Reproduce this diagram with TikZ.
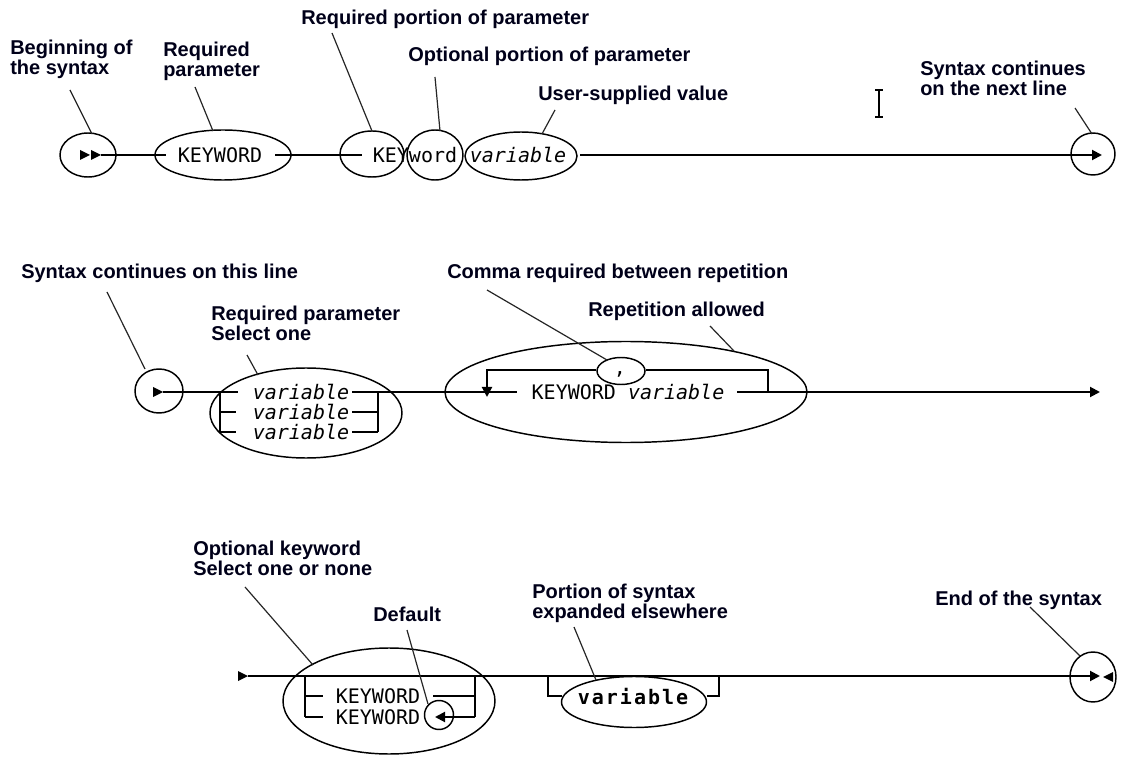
\documentclass[tikz,border=0pt]{standalone}
\usepackage{fontspec}
\setmainfont{Liberation Sans}
\newfontfamily\monof{DejaVu Sans Mono}
\newfontfamily\monosp[LetterSpace=10]{DejaVu Sans Mono}
\usetikzlibrary{shapes.geometric,arrows.meta}
\tikzset{
  lab/.style={font=\bfseries\fontsize{15}{14.5}\selectfont, align=left, inner sep=0pt, anchor=north west, text=black!90!blue},
  mono/.style={font=\monof\fontsize{15}{15}\selectfont, inner sep=0pt},
  monoit/.style={font=\monof\itshape\fontsize{15}{15}\selectfont, inner sep=0pt},
  monobold/.style={font=\monosp\bfseries\fontsize{15}{15}\selectfont, inner sep=0pt},
  ell/.style 2 args={ellipse, draw, line width=1.1pt, minimum width=#1*0.75pt, minimum height=#2*0.75pt, inner sep=0pt},
  rail/.style={line width=1.5pt},
  call/.style={line width=0.9pt, draw=black!85},
  tipped/.style={-{Triangle[length=7.5pt,width=7.5pt]}},
  rtri/.pic={\fill (0,-5) -- (10,0) -- (0,5) -- cycle;},
  ltri/.pic={\fill (0,-5) -- (-10,0) -- (0,5) -- cycle;}
}
\begin{document}
\begin{tikzpicture}[x=0.75pt,y=-0.75pt]
\useasboundingbox (0,0) rectangle (1125,759);

% ---------------- Row 1 ----------------
\node[ell={56}{44}] (st1) at (88,155) {};
\pic at (80,155) {rtri};
\pic at (91,155) {rtri};
\node[ell={136}{50}] (kwE) at (223,155) {};
\node[mono] (kwT) at (220,155) {KEYWORD};
\node[ell={64}{46}] (keyE) at (372,154) {};
\node[ell={56}{50}] (wordE) at (435,155) {};
\node[mono] (keyT) at (415,155) {KEYword};
\node[ell={112}{48}] (varE) at (521,156) {};
\node[monoit] (varT) at (518,155) {variable};
\node[ell={44}{42}] (end1) at (1093,154) {};
\coordinate (r1a) at (101,155);
\coordinate (r1b) at (166,155);
\coordinate (r1c) at (275,155);
\coordinate (r1d) at (362,155);
\coordinate (r1e) at (580,155);
\coordinate (r1f) at (1102,155);
\draw[rail] (r1a) -- (r1b);
\draw[rail] (r1c) -- (r1d);
\draw[rail,tipped] (r1e) -- (r1f);

% I-beam cursor
\draw[line width=0.9pt] (875,90) -- (883,90) (879,90) -- (879,117) (875,117) -- (883,117);

% labels row 1
\node[lab] (lBeg) at (10,40) {Beginning of\\the syntax};
\node[lab] (lReq) at (163,42) {Required\\parameter};
\node[lab] (lRqp) at (301,10) {Required portion of parameter};
\node[lab] (lOpp) at (408,47) {Optional portion of parameter};
\node[lab] (lUsr) at (538,86) {User-supplied value};
\node[lab] (lCnt) at (920,61) {Syntax continues\\on the next line};
\coordinate (c1a) at (70,90);   \coordinate (c1b) at (92,134);
\coordinate (c2a) at (195,87);  \coordinate (c2b) at (213,131);
\coordinate (c3a) at (332,33);  \coordinate (c3b) at (372,131);
\coordinate (c4a) at (435,77);  \coordinate (c4b) at (440,131);
\coordinate (c5a) at (555,110); \coordinate (c5b) at (542,134);
\coordinate (c6a) at (1075,108);\coordinate (c6b) at (1092,134);
\draw[call] (c1a) -- (c1b);
\draw[call] (c2a) -- (c2b);
\draw[call] (c3a) -- (c3b);
\draw[call] (c4a) -- (c4b);
\draw[call] (c5a) -- (c5b);
\draw[call] (c6a) -- (c6b);

% ---------------- Row 2 ----------------
\node[ell={48}{44}] (st2) at (159,391) {};
\pic at (153,392) {rtri};
\node[ell={192}{90}] (chE) at (306,413) {};
\node[monoit] (v1) at (301,392) {variable};
\node[monoit] (v2) at (301,412) {variable};
\node[monoit] (v3) at (301,432) {variable};
\coordinate (a0) at (163,392);
\coordinate (a1) at (238,392);
\coordinate (bL1) at (220,392); \coordinate (bL3) at (220,432);
\coordinate (bL2) at (220,412);
\coordinate (tL2) at (236,412); \coordinate (tL3) at (236,432);
\coordinate (bR1) at (378,392); \coordinate (bR2) at (378,412); \coordinate (bR3) at (378,432);
\coordinate (tR1) at (352,392); \coordinate (tR2) at (352,412); \coordinate (tR3) at (352,432);
\draw[rail] (a0) -- (a1);
\draw[rail] (bL1) -- (bL3);
\draw[rail] (bL2) -- (tL2);
\draw[rail] (bL3) -- (tL3);
\draw[rail] (tR2) -- (bR2);
\draw[rail] (tR3) -- (bR3);
\draw[rail] (bR1) -- (bR3);

\node[ell={362}{101}] (repE) at (626,392) {};
\node[ell={48}{27}] (comE) at (621,371) {};
\node[mono,anchor=base] (comT) at (620,375) {,};
\node[mono] (kvT) at (628,392) {KEYWORD \textit{variable}};
\coordinate (m1) at (517,392);
\coordinate (m2) at (737,392);
\coordinate (m3) at (1100,392);
\coordinate (lpR) at (768,392);
\coordinate (lpRt) at (768,370);
\coordinate (lpLt) at (487,370);
\coordinate (lpLd) at (487,397);
\draw[rail] (tR1) -- (m1);
\draw[rail,tipped] (m2) -- (m3);
\draw[rail] (lpR) -- (lpRt) -- (comE.east |- lpRt);
\draw[rail,tipped] (comE.west |- lpLt) -- (lpLt) -- (lpLd);

% labels row 2
\node[lab] (lThis) at (21,264) {Syntax continues on this line};
\node[lab] (lSel) at (211,306) {Required parameter\\Select one};
\node[lab] (lCom) at (447,264) {Comma required between repetition};
\node[lab] (lRep) at (588,302) {Repetition allowed};
\coordinate (d1a) at (107,292); \coordinate (d1b) at (145,369);
\coordinate (d2a) at (247,355); \coordinate (d2b) at (258,375);
\coordinate (d3a) at (487,290); \coordinate (d3b) at (607,360);
\coordinate (d4a) at (710,326); \coordinate (d4b) at (734,351);
\draw[call] (d1a) -- (d1b);
\draw[call] (d2a) -- (d2b);
\draw[call] (d3a) -- (d3b);
\draw[call] (d4a) -- (d4b);

% ---------------- Row 3 ----------------
\pic at (238,676) {rtri};
\coordinate (s3) at (248,676);
\coordinate (e3) at (1100,676);
\draw[rail,tipped] (s3) -- (e3);
\node[ell={212}{106}] (optE) at (389,701) {};
\node[mono] (k1) at (378,696) {KEYWORD};
\node[mono] (k2) at (378,717) {KEYWORD};
\node[ell={29}{29}] (defE) at (439,715) {};
\coordinate (oL1) at (305,676); \coordinate (oL2) at (305,696); \coordinate (oL3) at (305,717);
\coordinate (oT2) at (323,696); \coordinate (oT3) at (323,717);
\coordinate (oR1) at (475,676); \coordinate (oR2) at (475,696); \coordinate (oR3) at (475,717);
\coordinate (oS2) at (433,696); \coordinate (oS3) at (435,717);
\draw[rail] (oL1) -- (oL3);
\draw[rail] (oL2) -- (oT2);
\draw[rail] (oL3) -- (oT3);
\draw[rail] (oR1) -- (oR3);
\draw[rail] (oS2) -- (oR2);
\draw[rail,tipped] (oR3) -- (oS3);

\node[ell={145}{51}] (porE) at (634,702) {};
\node[monobold] (porT) at (633,697) {variable};
\coordinate (pL1) at (548,676); \coordinate (pL2) at (548,696); \coordinate (pL3) at (562,696);
\coordinate (pR1) at (719,676); \coordinate (pR2) at (719,696); \coordinate (pR3) at (707,696);
\draw[rail] (pL1) -- (pL2) -- (pL3);
\draw[rail] (pR3) -- (pR2) -- (pR1);

\node[ell={46}{50}] (end3) at (1093,677) {};
\pic at (1113,677) {ltri};

% labels row 3
\node[lab] (lOpt) at (193,541) {Optional keyword\\Select one or none};
\node[lab] (lDef) at (373,607) {Default};
\node[lab] (lPor) at (532,584) {Portion of syntax\\expanded elsewhere};
\node[lab] (lEnd) at (935,591) {End of the syntax};
\coordinate (f1a) at (245,587);  \coordinate (f1b) at (313,665);
\coordinate (f2a) at (407,630);  \coordinate (f2b) at (428,704);
\coordinate (f3a) at (574,627);  \coordinate (f3b) at (596,680);
\coordinate (f4a) at (1030,607); \coordinate (f4b) at (1080,656);
\draw[call] (f1a) -- (f1b);
\draw[call] (f2a) -- (f2b);
\draw[call] (f3a) -- (f3b);
\draw[call] (f4a) -- (f4b);
\end{tikzpicture}
\end{document}
